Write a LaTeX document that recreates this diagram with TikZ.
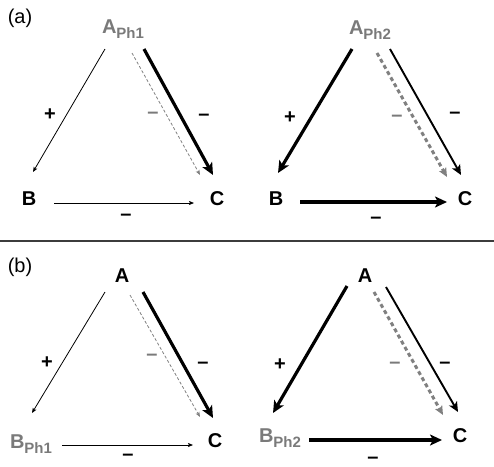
\documentclass[tikz,border=0pt]{standalone}
\usepackage{fontspec}
\setmainfont{Liberation Sans}
\usetikzlibrary{arrows.meta}

\newcommand{\phsub}[1]{\raisebox{-5pt}{\fontsize{15}{16}\selectfont Ph#1}}

\begin{document}
\begin{tikzpicture}[x=1pt, y=-1pt, >=Stealth,
    lbl/.style={font=\fontsize{20}{22}\selectfont\bfseries, anchor=base, inner sep=0pt},
    sgn/.style={font=\fontsize{20}{22}\selectfont\bfseries, inner sep=0pt},
    weak/.style={line width=0.8pt, -{Stealth[length=5pt, width=4pt, inset=1pt]}},
    mid/.style={line width=1.9pt, -{Stealth[length=10pt, width=9pt, inset=2.5pt]}},
    strong/.style={line width=3.2pt, -{Stealth[length=12pt, width=11pt, inset=3pt]}},
    weakdash/.style={weak, draw=dashgray, dash pattern=on 3pt off 2pt},
    strongdash/.style={line width=3pt, draw=dashgray, dash pattern=on 4pt off 3pt,
      -{Stealth[length=9pt, width=8pt, inset=2pt, fill=dashgray]}}]
  \definecolor{labelgray}{RGB}{122,122,122}
  \definecolor{dashgray}{RGB}{128,128,128}
  \definecolor{rulegray}{RGB}{60,60,60}

  \useasboundingbox (0,0) rectangle (494,466);

  % panel (a)
  \node[font=\fontsize{20}{22}\selectfont] (tagA) at (20,18) {(a)};

  \node[lbl, labelgray] (A1) at (123,33) {A\phsub{1}};
  \node[lbl] (B1) at (29,205) {B};
  \node[lbl] (C1) at (217,205) {C};
  \draw[weak] ([shift={(-18,16)}]A1.base) -- ([shift={(4,-33)}]B1.base);
  \draw[weakdash] ([shift={(9,20)}]A1.base) -- ([shift={(-17,-30)}]C1.base);
  \draw[strong] ([shift={(21,16)}]A1.base) -- ([shift={(-4,-30)}]C1.base);
  \draw[weak] ([shift={(25,-2)}]B1.base) -- ([shift={(-23,-2)}]C1.base);
  \node[sgn] (p1) at (50,115) {+};
  \node[sgn, labelgray] (g1) at (153,115) {--};
  \node[sgn] (m1) at (204,117) {--};
  \node[sgn] (n1) at (126,217) {--};

  \node[lbl, labelgray] (A2) at (370,34) {A\phsub{2}};
  \node[lbl] (B2) at (276,205) {B};
  \node[lbl] (C2) at (465,205) {C};
  \draw[strong] ([shift={(-18,15)}]A2.base) -- ([shift={(2,-32)}]B2.base);
  \draw[strongdash] ([shift={(7,19)}]A2.base) -- ([shift={(-18,-28)}]C2.base);
  \draw[mid] ([shift={(20,15)}]A2.base) -- ([shift={(-4,-30)}]C2.base);
  \draw[strong] ([shift={(24,-3)}]B2.base) -- ([shift={(-18,-3)}]C2.base);
  \node[sgn] (p2) at (290,118) {+};
  \node[sgn, labelgray] (g2) at (397,118) {--};
  \node[sgn] (m2) at (455,115) {--};
  \node[sgn] (n2) at (376,220) {--};

  \draw[line width=1.5pt, rulegray] (0,241) -- (494,241);

  % panel (b)
  \node[font=\fontsize{20}{22}\selectfont] (tagB) at (20,267) {(b)};

  \node[lbl] (A3) at (122,282) {A};
  \node[lbl, labelgray] (B3) at (31,448) {B\phsub{1}};
  \node[lbl] (C3) at (215,447) {C};
  \draw[weak] ([shift={(-17,10)}]A3.base) -- ([shift={(1,-35)}]B3.base);
  \draw[weakdash] ([shift={(8,13)}]A3.base) -- ([shift={(-15,-30)}]C3.base);
  \draw[strong] ([shift={(21,10)}]A3.base) -- ([shift={(-2,-29)}]C3.base);
  \draw[weak] ([shift={(31,-3)}]B3.base) -- ([shift={(-22,-2)}]C3.base);
  \node[sgn] (p3) at (47,363) {+};
  \node[sgn, labelgray] (g3) at (152,357) {--};
  \node[sgn] (m3) at (203,365) {--};
  \node[sgn] (n3) at (128,457) {--};

  \node[lbl] (A4) at (365,282) {A};
  \node[lbl, labelgray] (B4) at (280,442) {B\phsub{2}};
  \node[lbl] (C4) at (460,442) {C};
  \draw[strong] ([shift={(-18,4)}]A4.base) -- ([shift={(-7,-29)}]B4.base);
  \draw[strongdash] ([shift={(9,10)}]A4.base) -- ([shift={(-17,-27)}]C4.base);
  \draw[mid] ([shift={(21,5)}]A4.base) -- ([shift={(-2,-30)}]C4.base);
  \draw[strong] ([shift={(29,-2)}]B4.base) -- ([shift={(-18,-2)}]C4.base);
  \node[sgn] (p4) at (280,365) {+};
  \node[sgn, labelgray] (g4) at (395,365) {--};
  \node[sgn] (m4) at (445,365) {--};
  \node[sgn] (n4) at (373,460) {--};

\end{tikzpicture}
\end{document}
